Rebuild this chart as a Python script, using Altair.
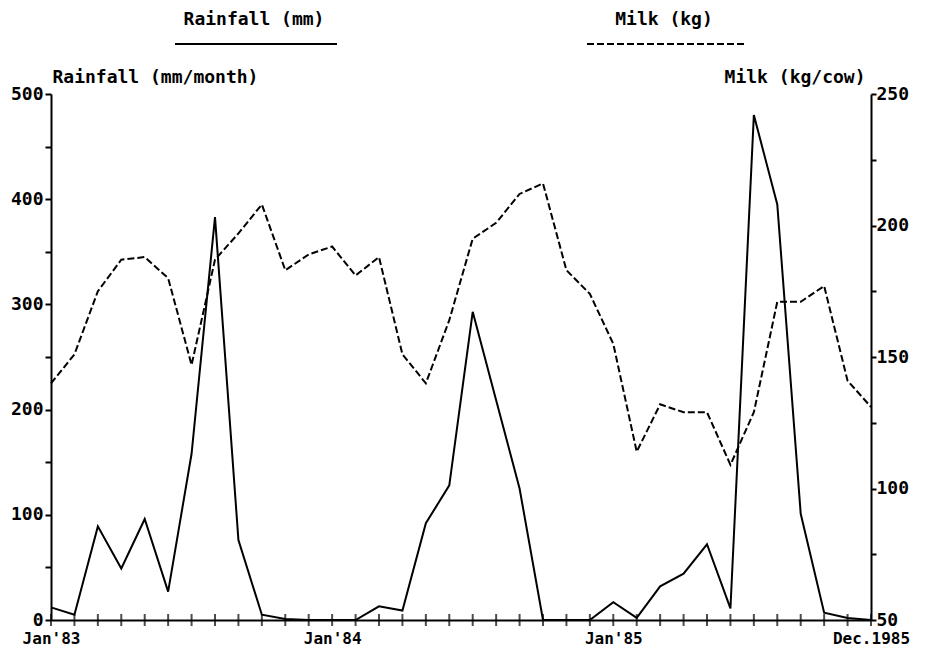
import altair as alt
import pandas as pd

# Month index 0 = Jan 1983 ... 35 = Dec 1985
months = list(range(36))
rainfall = [12, 5, 89, 49, 96, 27, 158, 383, 76, 5, 1, 0,
            0, 0, 13, 9, 92, 128, 293, 209, 125, 0, 0, 0,
            17, 2, 32, 44, 72, 11, 480, 395, 101, 7, 2, 0]
milk = [140, 151, 175, 187, 188, 180, 147, 187, 197, 208, 183, 189,
        192, 181, 188, 151, 140, 164, 195, 201, 212, 216, 183, 174,
        155, 114, 132, 129, 129, 109, 129, 171, 171, 177, 141, 131]
label_pos = [0, 12, 24, 35]
label_text = ["Jan'83", "Jan'84", "Jan'85", "Dec.1985"]

FONT = "DejaVu Sans Mono"
WEIGHT = "bold"

df = pd.DataFrame({"m": months, "rain": rainfall, "milk": milk})

label_expr = " : ".join(
    [f"datum.value == {p} ? \"{t}\"" for p, t in zip(label_pos, label_text)]
) + " : ''"

x_enc = alt.X(
    "m:Q",
    scale=alt.Scale(domain=[0, 35], nice=False, zero=False),
    axis=alt.Axis(
        values=label_pos, labelExpr=label_expr, ticks=False, tickSize=0,
        labelPadding=10, labelFontSize=16, labelFont=FONT, labelColor="black",
        labelFontWeight=WEIGHT,
        labelBaseline="top", domainColor="black", domainWidth=2, grid=False,
        title=None, labelFlush=False, labelOverlap=False,
    ),
)

rain_scale = alt.Scale(domain=[0, 500], nice=False)
milk_scale = alt.Scale(domain=[50, 250], nice=False, zero=False)

y_rain = alt.Y(
    "rain:Q", scale=rain_scale,
    axis=alt.Axis(
        values=list(range(0, 501, 50)),
        labelExpr="datum.value % 100 == 0 ? datum.label : ''",
        orient="left", tickSize=6, tickWidth=2, tickColor="black",
        labelPadding=2, labelFontSize=18, labelFont=FONT, labelColor="black",
        labelFontWeight=WEIGHT,
        domainColor="black", domainWidth=2, grid=False,
        title="Rainfall (mm/month)", titleAngle=0, titleAlign="left",
        titleBaseline="middle", titleX=1, titleY=-17, titleFont=FONT,
        titleFontSize=18, titleFontWeight=WEIGHT, titleColor="black",
    ),
)

base = alt.Chart(df)

rain_line = base.mark_line(color="black", strokeWidth=2).encode(x=x_enc, y=y_rain)

# crossing month ticks on the x axis, placed at rainfall = 0
x_ticks = base.transform_calculate(rain="0").mark_tick(
    orient="vertical", size=12, thickness=2, color="black"
).encode(x=x_enc, y=y_rain)

inner = alt.layer(rain_line, x_ticks)

milk_line = base.mark_line(color="black", strokeWidth=2, strokeDash=[7, 3]).encode(
    x=x_enc,
    y=alt.Y(
        "milk:Q", scale=milk_scale,
        axis=alt.Axis(
            values=list(range(50, 251, 25)),
            labelExpr="datum.value % 50 == 0 ? datum.label : ''",
            orient="right", tickSize=5, tickWidth=2, tickColor="black",
            labelPadding=0, labelFontSize=18, labelFont=FONT, labelColor="black",
            labelFontWeight=WEIGHT,
            domainColor="black", domainWidth=2, grid=False,
            title="Milk (kg/cow)", titleAngle=0, titleAlign="right",
            titleBaseline="middle", titleX=-6, titleY=-17, titleFont=FONT,
            titleFontSize=18, titleFontWeight=WEIGHT, titleColor="black",
        ),
    ),
)

legend_df = pd.DataFrame({"label": ["Rainfall (mm)", "Milk (kg)"]})

leg_rain_text = alt.Chart(legend_df).transform_filter(
    alt.datum.label == "Rainfall (mm)"
).mark_text(font=FONT, fontSize=18, fontWeight=WEIGHT, color="black",
            align="center", baseline="middle").encode(
    text="label:N", x=alt.value(203), y=alt.value(-74)
)
leg_milk_text = alt.Chart(legend_df).transform_filter(
    alt.datum.label == "Milk (kg)"
).mark_text(font=FONT, fontSize=18, fontWeight=WEIGHT, color="black",
            align="center", baseline="middle").encode(
    text="label:N", x=alt.value(613), y=alt.value(-74)
)
leg_rain_line = alt.Chart(legend_df).transform_filter(
    alt.datum.label == "Rainfall (mm)"
).mark_rule(color="black", strokeWidth=2).encode(
    x=alt.value(124), x2=alt.value(286), y=alt.value(-50)
)
leg_milk_line = alt.Chart(legend_df).transform_filter(
    alt.datum.label == "Milk (kg)"
).mark_rule(color="black", strokeWidth=2, strokeDash=[7, 3]).encode(
    x=alt.value(536), x2=alt.value(696), y=alt.value(-50)
)

chart = alt.layer(
    inner, milk_line, leg_rain_text, leg_milk_text, leg_rain_line, leg_milk_line
).resolve_scale(y="independent").properties(
    width=820, height=526,
    autosize=alt.AutoSizeParams(type="none"),
    padding={"left": 43, "top": 86, "right": 48, "bottom": 28},
    background="white",
).configure_view(stroke=None)

chart.save("out.html", embed_options={"renderer": "svg", "actions": False})
